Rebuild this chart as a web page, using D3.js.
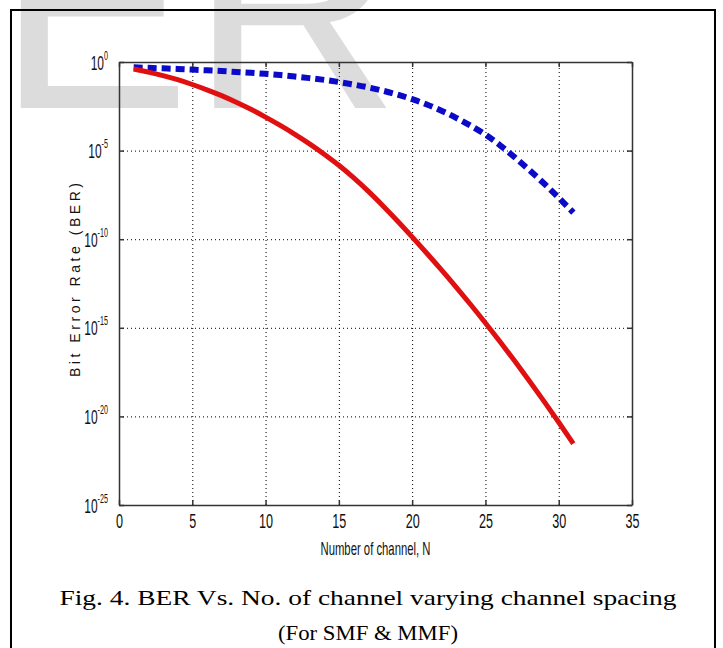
<!DOCTYPE html>
<html>
<head>
<meta charset="utf-8">
<script src="https://cdn.jsdelivr.net/npm/d3@7"></script>
<style>
  html, body { margin: 0; padding: 0; background: #fff; }
  svg { display: block; }
</style>
</head>
<body>
<svg id="chart" width="723" height="648"></svg>
<script>
// ---- data ----
const channels = [1,2,3,4,5,6,7,8,9,10,11,12,13,14,15,16,17,18,19,20,21,22,23,24,25,26,27,28,29,30,31];
// solid red curve
const berRed = [4.0e-1,2.69e-1,1.70e-1,1.0e-1,5.37e-2,2.69e-2,1.26e-2,5.37e-3,2.14e-3,7.76e-4,
                2.63e-4,8.32e-5,2.40e-5,6.31e-6,1.48e-6,2.95e-7,5.13e-8,7.76e-9,1.07e-9,1.35e-10,
                1.62e-11,1.86e-12,2.00e-13,2.00e-14,1.86e-15,1.62e-16,1.32e-17,1.0e-18,7.08e-20,4.68e-21,2.88e-22];
// dashed blue curve
const berBlue = [5.01e-1,4.68e-1,4.37e-1,4.07e-1,3.72e-1,3.39e-1,3.09e-1,2.75e-1,2.45e-1,2.14e-1,
                 1.82e-1,1.51e-1,1.23e-1,9.77e-2,7.41e-2,5.37e-2,3.72e-2,2.40e-2,1.45e-2,7.94e-3,
                 3.98e-3,1.78e-3,7.08e-4,2.51e-4,7.94e-5,2.00e-5,4.17e-6,7.94e-7,1.38e-7,2.19e-8,3.16e-9];
const xTicks = [0,5,10,15,20,25,30,35];
const yTickExps = [0,-5,-10,-15,-20,-25];
const xTitle = "Number of channel, N";
const yTitle = "Bit Error Rate (BER)";
const caption1 = "Fig. 4. BER Vs. No. of channel varying channel spacing";
const caption2 = "(For SMF & MMF)";
const watermark = "ER";

// ---- layout ----
const svg = d3.select("#chart");
const L = 119, R = 632, T = 62, B = 505;
const x = d3.scaleLinear().domain([0, 35]).range([L, R]);
const y = d3.scaleLog().domain([1e-25, 1]).range([B, T]);
const yTicks = yTickExps.map(e => Math.pow(10, e));

// watermark
svg.append("text")
  .attr("x", -3).attr("y", 108)
  .attr("font-family", "Liberation Sans, Arial, sans-serif")
  .attr("font-size", 290)
  .attr("fill", "#dcdcdc")
  .text(watermark);

// outer frame
svg.append("rect")
  .attr("x", 11).attr("y", 10).attr("width", 704).attr("height", 700)
  .attr("fill", "none").attr("stroke", "#000").attr("stroke-width", 2);

// grid
const gridX = svg.append("g").attr("transform", `translate(0,${B})`)
  .call(d3.axisBottom(x).tickValues(xTicks.slice(1, -1)).tickSize(-(B - T)).tickFormat(""));
gridX.select(".domain").remove();
gridX.selectAll("line").attr("stroke", "#000").attr("stroke-width", 1).attr("stroke-dasharray", "1,3");
const gridY = svg.append("g").attr("transform", `translate(${L},0)`)
  .call(d3.axisLeft(y).tickValues(yTicks.slice(1, -1)).tickSize(-(R - L)).tickFormat(""));
gridY.select(".domain").remove();
gridY.selectAll("line").attr("stroke", "#000").attr("stroke-width", 1).attr("stroke-dasharray", "1,3");

// curves
const line = d3.line().x((d, i) => x(channels[i])).y(d => y(d)).curve(d3.curveMonotoneX);
svg.append("path").datum(berBlue)
  .attr("d", line)
  .attr("fill", "none").attr("stroke", "#0a0ac8").attr("stroke-width", 6)
  .attr("stroke-dasharray", "9,5");
svg.append("path").datum(berRed)
  .attr("d", line)
  .attr("fill", "none").attr("stroke", "#e01010").attr("stroke-width", 5)
  .attr("stroke-linecap", "butt");

// axes (box with inward ticks)
const axisColor = "#333";
function styleAxis(g) {
  g.select(".domain").attr("stroke", axisColor).attr("stroke-width", 1.5);
  g.selectAll(".tick line").attr("stroke", axisColor).attr("stroke-width", 1.5);
}
const axB = svg.append("g").attr("transform", `translate(0,${B})`)
  .call(d3.axisBottom(x).tickValues(xTicks).tickSizeInner(-5).tickSizeOuter(0).tickPadding(8));
styleAxis(axB);
axB.selectAll(".tick text")
  .attr("font-family", "Liberation Sans, Arial, sans-serif")
  .attr("font-size", 20).attr("fill", "#111")
  .attr("y", 23).attr("dy", 0)
  .attr("textLength", d => String(d).length * 7)
  .attr("lengthAdjust", "spacingAndGlyphs");

const axT = svg.append("g").attr("transform", `translate(0,${T})`)
  .call(d3.axisTop(x).tickValues(xTicks).tickSizeInner(-5).tickSizeOuter(0).tickFormat(""));
styleAxis(axT);

const axL = svg.append("g").attr("transform", `translate(${L},0)`)
  .call(d3.axisLeft(y).tickValues(yTicks).tickSizeInner(-5).tickSizeOuter(0));
styleAxis(axL);
const sx = 0.6;
axL.selectAll(".tick text").each(function(d, i) {
  const t = d3.select(this);
  t.text(null)
    .attr("font-family", "Liberation Sans, Arial, sans-serif")
    .attr("fill", "#111")
    .attr("text-anchor", "end")
    .attr("transform", `scale(${sx},1)`)
    .attr("x", -11 / sx)
    .attr("y", 7).attr("dy", 0);
  t.append("tspan").attr("font-size", 20).text("10");
  t.append("tspan").attr("font-size", 12).attr("dy", -10).text(String(yTickExps[i]));
});

const axR = svg.append("g").attr("transform", `translate(${R},0)`)
  .call(d3.axisRight(y).tickValues(yTicks).tickSizeInner(-5).tickSizeOuter(0).tickFormat(""));
styleAxis(axR);

// axis titles
svg.append("text")
  .attr("x", (L + R) / 2).attr("y", 555)
  .attr("text-anchor", "middle")
  .attr("font-family", "Liberation Sans, Arial, sans-serif")
  .attr("font-size", 19).attr("fill", "#111")
  .attr("textLength", 110).attr("lengthAdjust", "spacingAndGlyphs")
  .text(xTitle);
svg.append("text")
  .attr("transform", "translate(80,280) rotate(-90)")
  .attr("text-anchor", "middle")
  .attr("font-family", "Liberation Sans, Arial, sans-serif")
  .attr("font-size", 14).attr("fill", "#111")
  .attr("textLength", 194).attr("lengthAdjust", "spacing")
  .text(yTitle);

// caption
svg.append("text")
  .attr("x", 368).attr("y", 605)
  .attr("text-anchor", "middle")
  .attr("font-family", "Liberation Serif, Times New Roman, serif")
  .attr("font-size", 22).attr("fill", "#000")
  .attr("textLength", 617).attr("lengthAdjust", "spacingAndGlyphs")
  .text(caption1);
svg.append("text")
  .attr("x", 368).attr("y", 640)
  .attr("text-anchor", "middle")
  .attr("font-family", "Liberation Serif, Times New Roman, serif")
  .attr("font-size", 22).attr("fill", "#000")
  .attr("textLength", 180).attr("lengthAdjust", "spacingAndGlyphs")
  .text(caption2);
</script>
</body>
</html>
